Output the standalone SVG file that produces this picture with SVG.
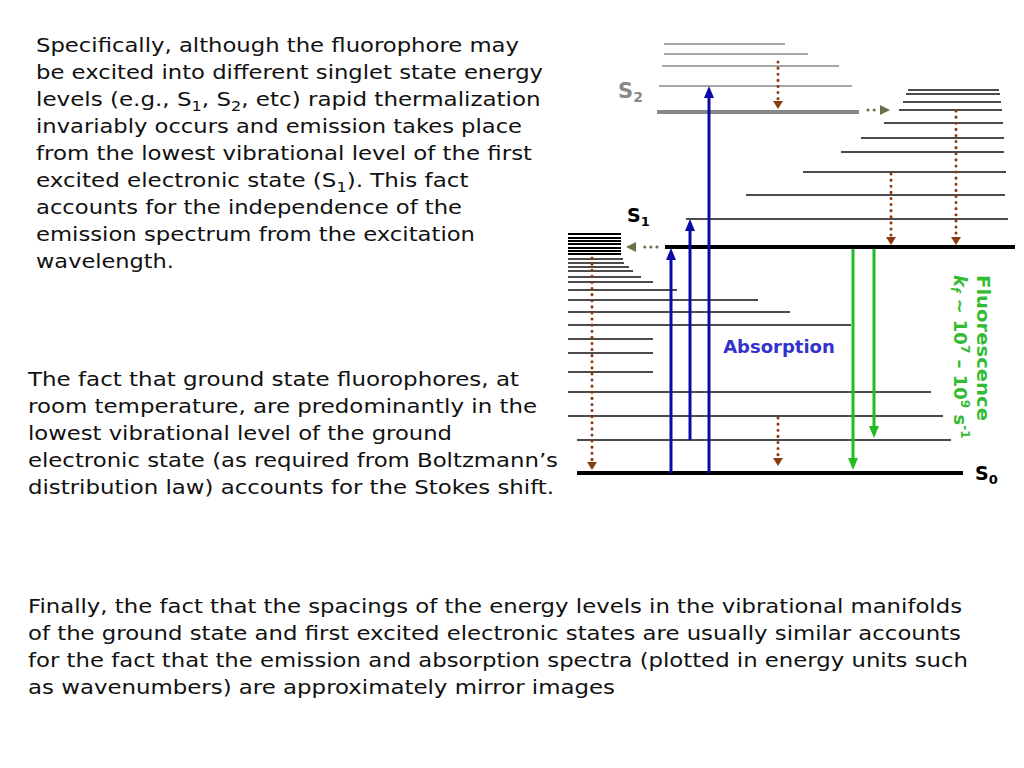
<svg xmlns="http://www.w3.org/2000/svg" width="1024" height="768" viewBox="0 0 1024 768">
<style>
.t{font-family:"DejaVu Sans",Verdana,sans-serif;font-size:20px;fill:#111}
.l{stroke:#111;stroke-width:1.5}
.g{stroke:#888;stroke-width:1.5}
.d{stroke:#8b3a12;stroke-width:3;stroke-dasharray:0.1 6;stroke-linecap:round}
.o{stroke:#6b7048;stroke-width:3;stroke-dasharray:0.1 6;stroke-linecap:round}
.lab{font-family:"DejaVu Sans",Verdana,sans-serif;font-weight:bold}
</style>
<g id="text">
<text class="t" x="36" y="52" textLength="483" lengthAdjust="spacingAndGlyphs">Specifically, although the fluorophore may</text>
<text class="t" x="36" y="79" textLength="507" lengthAdjust="spacingAndGlyphs">be excited into different singlet state energy</text>
<text class="t" transform="translate(36,106) scale(1.15,1)" x="0" y="0">levels (e.g., S<tspan font-size="14" dy="5">1</tspan><tspan dy="-5">, S</tspan><tspan font-size="14" dy="5">2</tspan><tspan dy="-5">, etc) rapid thermalization</tspan></text>
<text class="t" x="36" y="133" textLength="486" lengthAdjust="spacingAndGlyphs">invariably occurs and emission takes place</text>
<text class="t" x="36" y="160" textLength="496" lengthAdjust="spacingAndGlyphs">from the lowest vibrational level of the first</text>
<text class="t" transform="translate(36,187) scale(1.15,1)" x="0" y="0">excited electronic state (S<tspan font-size="14" dy="5">1</tspan><tspan dy="-5">). This fact</tspan></text>
<text class="t" x="36" y="214" textLength="426" lengthAdjust="spacingAndGlyphs">accounts for the independence of the</text>
<text class="t" x="36" y="241" textLength="439" lengthAdjust="spacingAndGlyphs">emission spectrum from the excitation</text>
<text class="t" x="36" y="268" textLength="138" lengthAdjust="spacingAndGlyphs">wavelength.</text>
<text class="t" x="28" y="386" textLength="491" lengthAdjust="spacingAndGlyphs">The fact that ground state fluorophores, at</text>
<text class="t" x="28" y="413" textLength="509" lengthAdjust="spacingAndGlyphs">room temperature, are predominantly in the</text>
<text class="t" x="28" y="440" textLength="424" lengthAdjust="spacingAndGlyphs">lowest vibrational level of the ground</text>
<text class="t" x="28" y="467" textLength="530" lengthAdjust="spacingAndGlyphs">electronic state (as required from Boltzmann’s</text>
<text class="t" x="28" y="494" textLength="526" lengthAdjust="spacingAndGlyphs">distribution law) accounts for the Stokes shift.</text>
<text class="t" x="28" y="613" textLength="934" lengthAdjust="spacingAndGlyphs">Finally, the fact that the spacings of the energy levels in the vibrational manifolds</text>
<text class="t" x="28" y="640" textLength="933" lengthAdjust="spacingAndGlyphs">of the ground state and first excited electronic states are usually similar accounts</text>
<text class="t" x="28" y="667" textLength="940" lengthAdjust="spacingAndGlyphs">for the fact that the emission and absorption spectra (plotted in energy units such</text>
<text class="t" x="28" y="694" textLength="587" lengthAdjust="spacingAndGlyphs">as wavenumbers) are approximately mirror images</text>
</g>
<g id="levels">
<line class="g" x1="664" y1="44" x2="785" y2="44"/>
<line class="g" x1="664" y1="54" x2="808" y2="54"/>
<line class="g" x1="662" y1="66" x2="839" y2="66"/>
<line class="g" x1="659" y1="86" x2="852" y2="86"/>
<line x1="657" y1="112" x2="859" y2="112" stroke="#888" stroke-width="4"/>
<line class="l" x1="908" y1="90" x2="999" y2="90"/>
<line class="l" x1="906" y1="94" x2="1000" y2="94"/>
<line class="l" x1="903" y1="102" x2="1001" y2="102"/>
<line class="l" x1="899" y1="110" x2="1002" y2="110"/>
<line class="l" x1="884" y1="123" x2="1003" y2="123"/>
<line class="l" x1="861" y1="138" x2="1004" y2="138"/>
<line class="l" x1="841" y1="152" x2="1004" y2="152"/>
<line class="l" x1="803" y1="172" x2="1006" y2="172"/>
<line class="l" x1="746" y1="195" x2="1005" y2="195"/>
<line class="l" x1="686" y1="219" x2="1008" y2="219"/>
<line x1="665" y1="247" x2="1015" y2="247" stroke="#000" stroke-width="4"/>
<path d="M568 234H621M568 238H621M568 241H621M568 244H621M568 248H621M568 251H621M568 254H621" stroke="#000" stroke-width="2.2"/>
<line class="l" x1="568" y1="259" x2="623" y2="259"/>
<line class="l" x1="568" y1="263" x2="624" y2="263"/>
<line class="l" x1="568" y1="267" x2="629" y2="267"/>
<line class="l" x1="568" y1="271" x2="633" y2="271"/>
<line class="l" x1="568" y1="277" x2="641" y2="277"/>
<line class="l" x1="568" y1="282" x2="653" y2="282"/>
<line class="l" x1="568" y1="290" x2="677" y2="290"/>
<line class="l" x1="568" y1="300" x2="758" y2="300"/>
<line class="l" x1="568" y1="312" x2="790" y2="312"/>
<line class="l" x1="568" y1="325" x2="851" y2="325"/>
<line class="l" x1="568" y1="339" x2="653" y2="339"/>
<line class="l" x1="568" y1="353" x2="653" y2="353"/>
<line class="l" x1="568" y1="372" x2="653" y2="372"/>
<line class="l" x1="568" y1="392" x2="931" y2="392"/>
<line class="l" x1="568" y1="416" x2="943" y2="416"/>
<line class="l" x1="577" y1="440" x2="951" y2="440"/>
<line x1="577" y1="473" x2="963" y2="473" stroke="#000" stroke-width="4"/>
</g>
<g id="labels">
<text class="lab" x="618" y="98" font-size="21" fill="#888">S<tspan font-size="14" dy="4">2</tspan></text>
<text class="lab" x="627" y="222" font-size="19" fill="#000">S<tspan font-size="13" dy="4">1</tspan></text>
<text class="lab" x="975" y="480" font-size="19" fill="#000">S<tspan font-size="13" dy="4">0</tspan></text>
<text class="lab" x="779" y="353" font-size="18" fill="#3333cc" text-anchor="middle">Absorption</text>
<g transform="translate(976,275) rotate(90)">
<text class="lab" x="0" y="-1" font-size="18" fill="#33bb33" textLength="146" lengthAdjust="spacingAndGlyphs">Fluorescence</text>
<text class="lab" x="0" y="22" font-size="18" fill="#33bb33"><tspan font-style="italic">k</tspan><tspan font-style="italic" font-size="12" dy="3">f</tspan><tspan dy="-3"> ~ 10</tspan><tspan font-size="12" dy="-7">7</tspan><tspan dy="7"> – 10</tspan><tspan font-size="12" dy="-7">9</tspan><tspan dy="7"> s</tspan><tspan font-size="12" dy="-7">-1</tspan></text>
</g>
</g>
<g id="connectors">
<g fill="#8b3a12">
<line class="d" x1="778" y1="62" x2="778" y2="100"/><path d="M773 101h10l-5 8z"/>
<line class="d" x1="891" y1="174" x2="891" y2="236"/><path d="M886 237h10l-5 8z"/>
<line class="d" x1="956" y1="111" x2="956" y2="236"/><path d="M951 237h10l-5 8z"/>
<line class="d" x1="592" y1="258" x2="592" y2="462"/><path d="M587 462h10l-5 8z"/>
<line class="d" x1="778" y1="418" x2="778" y2="458"/><path d="M773 458h10l-5 8z"/>
</g>
<line class="o" x1="868" y1="110" x2="880" y2="110"/>
<path d="M890 110l-10-5v10z" fill="#6b7048"/>
<line class="o" x1="657" y1="247" x2="640" y2="247"/>
<path d="M626 247l10-5v10z" fill="#6b7048"/>
<g stroke="#0a0aa8" stroke-width="3" fill="#0a0aa8">
<line x1="671" y1="473" x2="671" y2="258"/><path d="M671 248l-5 12h10z" stroke="none"/>
<line x1="690" y1="440" x2="690" y2="229"/><path d="M690 219l-5 12h10z" stroke="none"/>
<line x1="709" y1="473" x2="709" y2="96"/><path d="M709 86l-5 12h10z" stroke="none"/>
</g>
<g stroke="#22bb22" stroke-width="3" fill="#22bb22">
<line x1="853" y1="249" x2="853" y2="460"/><path d="M853 470l-5-12h10z" stroke="none"/>
<line x1="874" y1="249" x2="874" y2="428"/><path d="M874 438l-5-12h10z" stroke="none"/>
</g>
</g>
</svg>
